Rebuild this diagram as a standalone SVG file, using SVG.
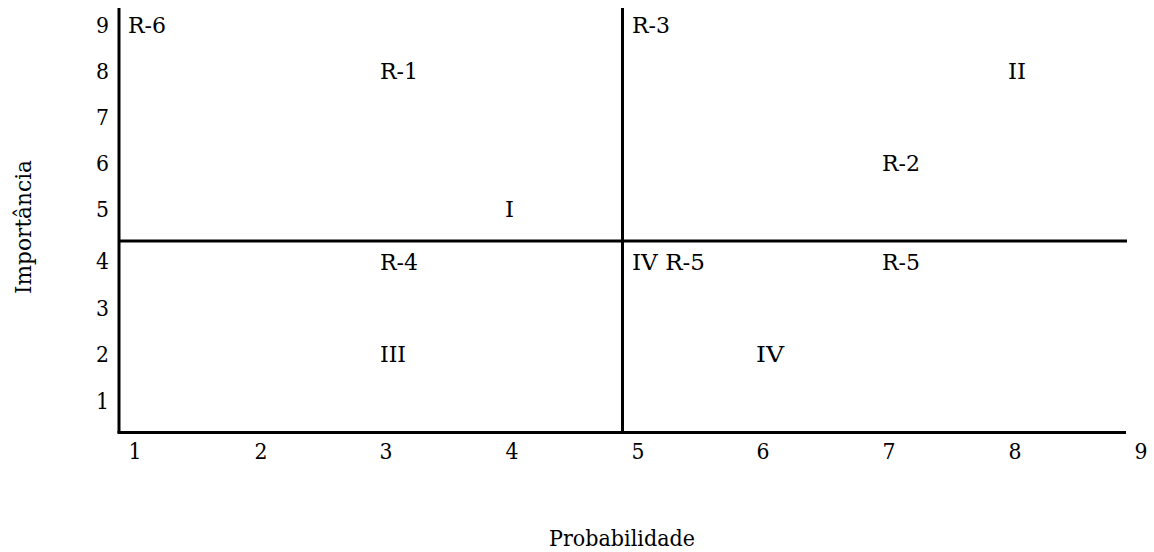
<svg xmlns="http://www.w3.org/2000/svg" width="1154" height="552" viewBox="0 0 1154 552">
<style>
text { font-family: "DejaVu Serif", "Liberation Serif", serif; font-size: 23px; fill: #000; }
.yt { text-anchor: end; }
.xt { text-anchor: middle; }
.ax { stroke: #000; stroke-width: 3; fill: none; }
</style>
<rect width="1154" height="552" fill="#fff"/>
<g id="axes">
  <line class="ax" x1="119" y1="8" x2="119" y2="433"/>
  <line class="ax" x1="117.5" y1="432.5" x2="1126" y2="432.5"/>
  <line class="ax" x1="622.5" y1="8" x2="622.5" y2="432"/>
  <line class="ax" x1="119" y1="241" x2="1127" y2="241"/>
</g>
<g id="y-ticks">
  <text class="yt" x="109" y="33" textLength="13" lengthAdjust="spacingAndGlyphs">9</text>
  <text class="yt" x="109" y="79" textLength="13" lengthAdjust="spacingAndGlyphs">8</text>
  <text class="yt" x="109" y="125" textLength="13" lengthAdjust="spacingAndGlyphs">7</text>
  <text class="yt" x="109" y="171" textLength="13" lengthAdjust="spacingAndGlyphs">6</text>
  <text class="yt" x="109" y="217" textLength="13" lengthAdjust="spacingAndGlyphs">5</text>
  <text class="yt" x="109" y="269" textLength="13" lengthAdjust="spacingAndGlyphs">4</text>
  <text class="yt" x="109" y="316" textLength="13" lengthAdjust="spacingAndGlyphs">3</text>
  <text class="yt" x="109" y="362" textLength="13" lengthAdjust="spacingAndGlyphs">2</text>
  <text class="yt" x="109" y="409" textLength="13" lengthAdjust="spacingAndGlyphs">1</text>
</g>
<g id="x-ticks">
  <text class="xt" x="135" y="459" textLength="13" lengthAdjust="spacingAndGlyphs">1</text>
  <text class="xt" x="261" y="459" textLength="13" lengthAdjust="spacingAndGlyphs">2</text>
  <text class="xt" x="386" y="459" textLength="13" lengthAdjust="spacingAndGlyphs">3</text>
  <text class="xt" x="512" y="459" textLength="13" lengthAdjust="spacingAndGlyphs">4</text>
  <text class="xt" x="638" y="459" textLength="13" lengthAdjust="spacingAndGlyphs">5</text>
  <text class="xt" x="763" y="459" textLength="13" lengthAdjust="spacingAndGlyphs">6</text>
  <text class="xt" x="889" y="459" textLength="13" lengthAdjust="spacingAndGlyphs">7</text>
  <text class="xt" x="1015" y="459" textLength="13" lengthAdjust="spacingAndGlyphs">8</text>
  <text class="xt" x="1141" y="459" textLength="13" lengthAdjust="spacingAndGlyphs">9</text>
</g>
<g id="labels">
  <text x="128" y="33" textLength="38" lengthAdjust="spacingAndGlyphs">R-6</text>
  <text x="632" y="33" textLength="38" lengthAdjust="spacingAndGlyphs">R-3</text>
  <text x="380" y="79" textLength="38" lengthAdjust="spacingAndGlyphs">R-1</text>
  <text x="1008" y="79" textLength="18" lengthAdjust="spacingAndGlyphs">II</text>
  <text x="882" y="171" textLength="38" lengthAdjust="spacingAndGlyphs">R-2</text>
  <text x="505" y="217" textLength="9" lengthAdjust="spacingAndGlyphs">I</text>
  <text x="380" y="270" textLength="38" lengthAdjust="spacingAndGlyphs">R-4</text>
  <text x="632" y="270" textLength="73" lengthAdjust="spacingAndGlyphs">IV R-5</text>
  <text x="882" y="270" textLength="38" lengthAdjust="spacingAndGlyphs">R-5</text>
  <text x="380" y="362" textLength="26" lengthAdjust="spacingAndGlyphs">III</text>
  <text x="756" y="362" textLength="28" lengthAdjust="spacingAndGlyphs">IV</text>
</g>
<g id="axis-titles">
  <text class="xt" x="622" y="546" textLength="146" lengthAdjust="spacingAndGlyphs">Probabilidade</text>
  <text class="xt" transform="translate(31,227) rotate(-90)" x="0" y="0" textLength="134" lengthAdjust="spacingAndGlyphs">Importância</text>
</g>
</svg>
